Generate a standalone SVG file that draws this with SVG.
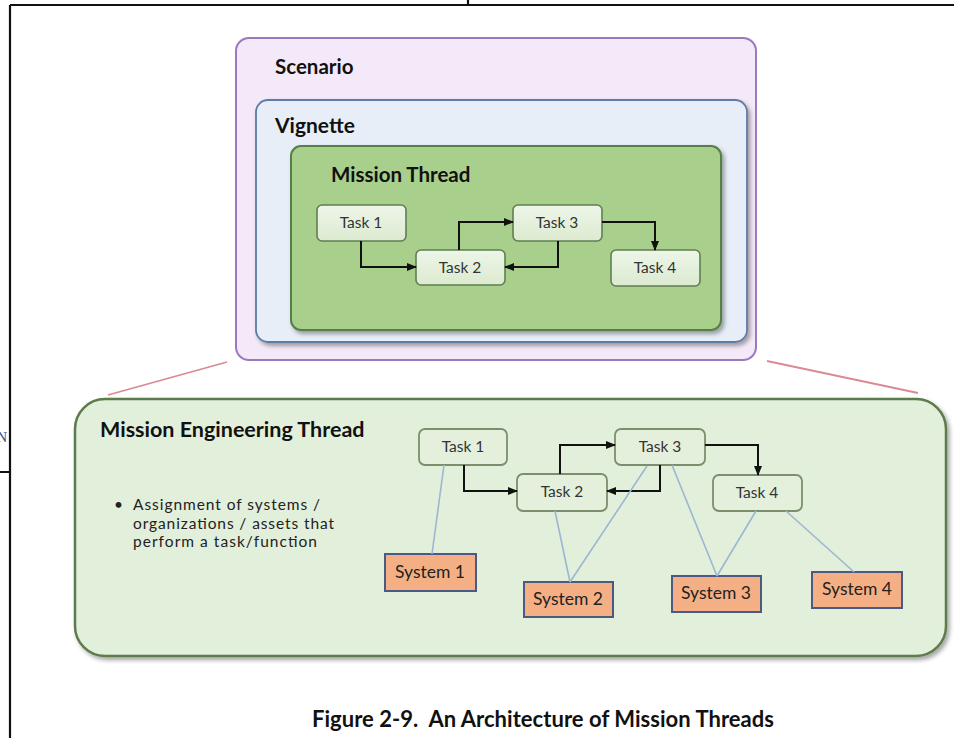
<svg xmlns="http://www.w3.org/2000/svg" width="954" height="738" viewBox="0 0 954 738">
  <style>
    .frame { stroke: #111; stroke-width: 2.2; fill: none; }
    .title { font-family: Lato, "Open Sans", sans-serif; font-weight: bold; fill: #111; }
    .task-t { font-family: Lato, "Open Sans", sans-serif; font-size: 15.5px; fill: #333; text-anchor: middle; }
    .sys-t { font-family: Lato, "Open Sans", sans-serif; font-size: 17.5px; fill: #222; text-anchor: middle; }
    .body-t { font-family: Lato, "Open Sans", sans-serif; font-size: 15.5px; fill: #222; }
    .task-top { fill: url(#taskFill); stroke: #5f7f52; stroke-width: 1.6; }
    .task-low { fill: #e4f0dc; stroke: #7b8f6f; stroke-width: 1.8; }
    .system { fill: #f4b084; stroke: #4b5a85; stroke-width: 2; }
    .flow { fill: none; stroke: #111; stroke-width: 2; marker-end: url(#arrow); }
    .assign { fill: none; stroke: #9cb7d3; stroke-width: 1.6; }
    .zoom { fill: none; stroke: #d98a93; stroke-width: 1.8; }
  </style>
  <defs>
    <linearGradient id="taskFill" x1="0" y1="0" x2="0" y2="1">
      <stop offset="0" stop-color="#eef6e8"/>
      <stop offset="1" stop-color="#dcead0"/>
    </linearGradient>
    <filter id="shadow" x="-5%" y="-5%" width="112%" height="115%">
      <feDropShadow dx="2.5" dy="3" stdDeviation="2" flood-color="#000" flood-opacity="0.35"/>
    </filter>
    <marker id="arrow" markerUnits="userSpaceOnUse" markerWidth="10" markerHeight="8" refX="9" refY="4" orient="auto">
      <path d="M0,0 L10,4 L0,8 Z" fill="#111"/>
    </marker>
  </defs>

  <rect width="954" height="738" fill="#fff"/>

  <!-- page frame -->
  <g id="page-frame">
    <path class="frame" d="M10,5 H954 M468,0 V5 M10,5 V738 M0,472 H10"/>
    <text x="-3" y="442" font-family="Liberation Serif, serif" font-size="14" fill="#2b4a8c">N</text>
  </g>

  <!-- nested context boxes -->
  <g id="scenario">
    <rect x="236" y="38" width="520" height="322" rx="13" fill="#f4e9f8" stroke="#9c78bd" stroke-width="2"/>
    <text class="title" x="275" y="74" font-size="20.5">Scenario</text>
  </g>
  <g id="vignette">
    <rect x="256" y="100" width="491" height="242" rx="12" fill="#e7eef8" stroke="#5d7ca6" stroke-width="1.8" filter="url(#shadow)"/>
    <text class="title" x="275" y="133" font-size="21">Vignette</text>
  </g>
  <g id="mission-thread">
    <rect x="291" y="146" width="430" height="184" rx="10" fill="#a8cf8c" stroke="#567f44" stroke-width="2" filter="url(#shadow)"/>
    <text class="title" x="331" y="182" font-size="20.5">Mission Thread</text>
  </g>

  <!-- tasks inside the mission thread -->
  <g id="mt-task1">
    <rect class="task-top" x="317" y="205" width="89" height="36" rx="5"/>
    <text class="task-t" x="361" y="228">Task 1</text>
  </g>
  <g id="mt-task2">
    <rect class="task-top" x="416" y="250" width="89" height="35" rx="5"/>
    <text class="task-t" x="460" y="273">Task 2</text>
  </g>
  <g id="mt-task3">
    <rect class="task-top" x="513" y="205" width="89" height="36" rx="5"/>
    <text class="task-t" x="557" y="228">Task 3</text>
  </g>
  <g id="mt-task4">
    <rect class="task-top" x="611" y="250" width="89" height="36" rx="5"/>
    <text class="task-t" x="655" y="273">Task 4</text>
  </g>

  <!-- expanded mission engineering thread -->
  <g id="me-thread">
    <rect x="75" y="399" width="871" height="257" rx="30" fill="#e2efda" stroke="#5c7b4c" stroke-width="2.5" filter="url(#shadow)"/>
    <text class="title" x="100" y="437" font-size="21.5">Mission Engineering Thread</text>
    <text class="body-t" x="114" y="510">•</text>
    <text class="body-t" x="133" y="510" textLength="187">Assignment of systems /</text>
    <text class="body-t" x="133" y="528.5" textLength="201">organizations / assets that</text>
    <text class="body-t" x="133" y="547" textLength="184">perform a task/function</text>
  </g>

  <g id="me-task1">
    <rect class="task-low" x="419" y="429" width="88" height="36" rx="6"/>
    <text class="task-t" x="463" y="452">Task 1</text>
  </g>
  <g id="me-task2">
    <rect class="task-low" x="517" y="474" width="90" height="37" rx="6"/>
    <text class="task-t" x="562" y="497">Task 2</text>
  </g>
  <g id="me-task3">
    <rect class="task-low" x="615" y="429" width="90" height="36" rx="6"/>
    <text class="task-t" x="660" y="452">Task 3</text>
  </g>
  <g id="me-task4">
    <rect class="task-low" x="713" y="475" width="89" height="36" rx="6"/>
    <text class="task-t" x="757" y="498">Task 4</text>
  </g>

  <g id="system1">
    <rect class="system" x="385" y="554" width="91" height="37"/>
    <text class="sys-t" x="430" y="578">System 1</text>
  </g>
  <g id="system2">
    <rect class="system" x="524" y="582" width="89" height="35"/>
    <text class="sys-t" x="568" y="605">System 2</text>
  </g>
  <g id="system3">
    <rect class="system" x="672" y="576" width="89" height="36"/>
    <text class="sys-t" x="716" y="599">System 3</text>
  </g>
  <g id="system4">
    <rect class="system" x="812" y="572" width="90" height="36"/>
    <text class="sys-t" x="857" y="595">System 4</text>
  </g>

  <!-- connectors -->
  <g id="connectors">
    <!-- zoom-out lines from the scenario to the engineering thread -->
    <line class="zoom" x1="227" y1="362" x2="108" y2="395"/>
    <line class="zoom" x1="767" y1="361" x2="918" y2="393"/>

    <!-- task flow, mission thread -->
    <path class="flow" d="M361,241 V267 H416"/>
    <path class="flow" d="M459,250 V222 H513"/>
    <path class="flow" d="M558,241 V267 H505"/>
    <path class="flow" d="M602,222 H655 V250"/>

    <!-- task flow, engineering thread -->
    <path class="flow" d="M464,465 V491 H517"/>
    <path class="flow" d="M560,474 V445 H615"/>
    <path class="flow" d="M660,465 V491 H607"/>
    <path class="flow" d="M705,445 H758 V475"/>

    <!-- system assignments -->
    <line class="assign" x1="444" y1="465" x2="432" y2="554"/>
    <line class="assign" x1="555" y1="511" x2="570" y2="582"/>
    <line class="assign" x1="647" y1="466" x2="570" y2="582"/>
    <line class="assign" x1="672" y1="465" x2="717" y2="576"/>
    <line class="assign" x1="756" y1="511" x2="717" y2="576"/>
    <line class="assign" x1="786" y1="511" x2="854" y2="572"/>
  </g>

  <text class="title" x="312" y="727" font-size="22" xml:space="preserve" textLength="462">Figure 2-9.  An Architecture of Mission Threads</text>
</svg>
